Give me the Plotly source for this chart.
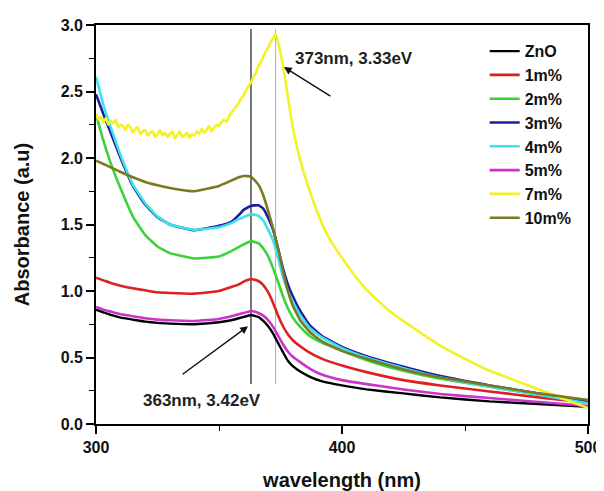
import plotly.graph_objects as go

# ---------------- data ----------------
wavelength = [300, 303, 306, 310, 315, 320, 325, 330, 340, 350, 355, 358, 360, 363, 366, 368,
              370, 372, 374, 376, 378, 380, 383, 387, 392, 400, 410, 425, 440, 460, 480, 500]

abs_zno = [0.86, 0.84, 0.82, 0.80, 0.785, 0.77, 0.76, 0.755, 0.75, 0.765, 0.78, 0.795, 0.805, 0.82, 0.805, 0.775,
           0.735, 0.68, 0.61, 0.54, 0.475, 0.435, 0.395, 0.355, 0.32, 0.29, 0.26, 0.23, 0.20, 0.17, 0.15, 0.13]
abs_1 = [1.10, 1.08, 1.06, 1.04, 1.02, 1.005, 0.99, 0.985, 0.98, 1.00, 1.03, 1.05, 1.07, 1.09, 1.075, 1.045,
         0.99, 0.91, 0.815, 0.735, 0.675, 0.63, 0.585, 0.535, 0.49, 0.44, 0.39, 0.33, 0.29, 0.245, 0.20, 0.16]
abs_2 = [2.33, 2.13, 1.96, 1.77, 1.56, 1.42, 1.335, 1.285, 1.245, 1.26, 1.30, 1.33, 1.35, 1.375, 1.36, 1.32,
         1.26, 1.17, 1.07, 0.96, 0.87, 0.80, 0.73, 0.66, 0.61, 0.55, 0.48, 0.40, 0.34, 0.28, 0.22, 0.18]
abs_3 = [2.48, 2.33, 2.19, 2.00, 1.79, 1.65, 1.555, 1.50, 1.457, 1.49, 1.52, 1.57, 1.61, 1.64, 1.645, 1.62,
         1.55, 1.46, 1.32, 1.17, 1.05, 0.96, 0.85, 0.74, 0.66, 0.58, 0.51, 0.43, 0.36, 0.29, 0.23, 0.165]
abs_4 = [2.61, 2.40, 2.23, 2.02, 1.80, 1.66, 1.56, 1.50, 1.46, 1.48, 1.51, 1.54, 1.555, 1.578, 1.565, 1.53,
         1.46, 1.38, 1.25, 1.11, 1.00, 0.92, 0.82, 0.72, 0.65, 0.57, 0.50, 0.42, 0.35, 0.28, 0.22, 0.155]
abs_5 = [0.88, 0.86, 0.845, 0.825, 0.81, 0.795, 0.785, 0.78, 0.775, 0.79, 0.81, 0.825, 0.835, 0.85, 0.835, 0.815,
         0.78, 0.73, 0.665, 0.60, 0.545, 0.505, 0.465, 0.415, 0.37, 0.33, 0.30, 0.26, 0.225, 0.195, 0.165, 0.135]
abs_10 = [1.98, 1.955, 1.93, 1.895, 1.855, 1.82, 1.795, 1.775, 1.75, 1.79, 1.83, 1.855, 1.865, 1.86, 1.80, 1.72,
          1.60, 1.47, 1.32, 1.15, 1.00, 0.89, 0.78, 0.69, 0.62, 0.55, 0.49, 0.41, 0.35, 0.29, 0.23, 0.18]

wavelength_7 = list(range(300, 374)) + [374, 375, 376, 377, 378, 379, 380, 382, 384, 386, 388, 390, 393, 396,
                                         400, 405, 410, 415, 420, 430, 440, 450, 460, 470, 480, 490, 500]
abs_7 = [2.33, 2.29, 2.31, 2.27, 2.30, 2.25, 2.28, 2.26, 2.29, 2.23,
         2.25, 2.24, 2.21, 2.25, 2.23, 2.19, 2.22, 2.23, 2.18, 2.20,
         2.21, 2.17, 2.19, 2.20, 2.16, 2.18, 2.21, 2.17, 2.19, 2.16,
         2.18, 2.20, 2.15, 2.17, 2.20, 2.16, 2.17, 2.19, 2.15, 2.18,
         2.17, 2.20, 2.18, 2.22, 2.19, 2.21, 2.24, 2.20, 2.23, 2.25,
         2.24, 2.27, 2.29, 2.27, 2.31, 2.34, 2.36, 2.39, 2.41, 2.45,
         2.47, 2.51, 2.54, 2.57, 2.61, 2.64, 2.69, 2.72, 2.76, 2.80,
         2.83, 2.87, 2.90, 2.93,
         2.87, 2.79, 2.69, 2.58, 2.46, 2.34, 2.23, 2.06, 1.92, 1.80, 1.69, 1.59, 1.46, 1.36,
         1.25, 1.12, 1.01, 0.92, 0.84, 0.71, 0.59, 0.49, 0.40, 0.33, 0.26, 0.19, 0.12]

series_names = ["ZnO", "1m%", "2m%", "3m%", "4m%", "5m%", "7m%", "10m%"]
series_colors = ["#000000", "#dd2020", "#3ad43a", "#1c1ca0", "#3ee0ec", "#cc33cc", "#f2f226", "#7c7a20"]

peak_wl = [363, 373]
peak_labels = ["363nm, 3.42eV", "373nm, 3.33eV"]

x_ticks = [300, 400, 500]
y_ticks = [0.0, 0.5, 1.0, 1.5, 2.0, 2.5, 3.0]

# ---------------- figure ----------------
FONT = "Liberation Sans, Arial, sans-serif"
fig = go.Figure()

series_x = [wavelength] * 6 + [wavelength_7, wavelength]
series_y = [abs_zno, abs_1, abs_2, abs_3, abs_4, abs_5, abs_7, abs_10]
for name, color, xs, ys in zip(series_names, series_colors, series_x, series_y):
    fig.add_trace(go.Scatter(
        x=xs, y=ys, mode="lines", name=name,
        line=dict(color=color, width=2.6 if name != "ZnO" else 2.4,
                  shape="spline", smoothing=0.35),
    ))

# reference vertical lines
for wl, col, w in zip(peak_wl, ["#555555", "#b0b0b0"], [1.6, 1.0]):
    fig.add_shape(type="line", xref="x", yref="y", x0=wl, x1=wl, y0=0.3, y1=2.97,
                  line=dict(color=col, width=w), layer="below")

# arrows
fig.add_annotation(x=361.8, y=0.735, ax=334.6, ay=0.366, axref="x", ayref="y",
                   xref="x", yref="y", text="", showarrow=True,
                   arrowhead=2, arrowsize=1.1, arrowwidth=1.4, arrowcolor="#111111")
fig.add_annotation(x=376.4, y=2.684, ax=395.9, ay=2.458, axref="x", ayref="y",
                   xref="x", yref="y", text="", showarrow=True,
                   arrowhead=2, arrowsize=1.1, arrowwidth=1.4, arrowcolor="#111111")
# labels
fig.add_annotation(x=342.9, y=0.178, xref="x", yref="y", text=peak_labels[0], showarrow=False,
                   font=dict(family=FONT, size=17, color="#222222", weight="bold"))
fig.add_annotation(x=380.0, y=2.75, xref="x", yref="y", text=peak_labels[1], showarrow=False,
                   xanchor="left", font=dict(family=FONT, size=17, color="#222222", weight="bold"))

axis_common = dict(
    showline=True, linecolor="#000000", linewidth=1.8, mirror=True, automargin=False,
    showgrid=False, zeroline=False, ticks="outside", ticklen=8, tickwidth=1.6,
    tickcolor="#000000",
    tickfont=dict(family=FONT, size=16, color="#111111", weight="bold"),
)

fig.update_xaxes(
    range=[300, 500], tickvals=x_ticks, ticktext=[str(v) for v in x_ticks],
    minor=dict(ticks="outside", ticklen=5, tickwidth=1.4, dtick=50, tick0=300, tickcolor="#000000"),
    title=dict(text="wavelength (nm)", standoff=18,
               font=dict(family=FONT, size=20, color="#111111", weight="bold")),
    **axis_common,
)
fig.update_yaxes(
    range=[0, 3.0], tickvals=y_ticks, ticktext=[f"{v:.1f}" for v in y_ticks],
    minor=dict(ticks="outside", ticklen=5, tickwidth=1.4, dtick=0.25, tick0=0, tickcolor="#000000"),
    title=dict(text="Absorbance (a.u)", standoff=26,
               font=dict(family=FONT, size=20, color="#111111", weight="bold")),
    **axis_common,
)

# the page body adds an 8px offset, so the figure is 8px smaller and margins are shifted
fig.update_layout(
    width=596, height=483,
    margin=dict(l=88, r=16, t=17, b=67, autoexpand=False),
    paper_bgcolor="white", plot_bgcolor="white",
    showlegend=True,
    legend=dict(x=0.79, y=0.977, xanchor="left", yanchor="top",
                bgcolor="rgba(0,0,0,0)", borderwidth=0,
                font=dict(family=FONT, size=16, color="#111111", weight="bold"),
                itemwidth=30, tracegroupgap=0),
)

fig.write_html("out.html")
